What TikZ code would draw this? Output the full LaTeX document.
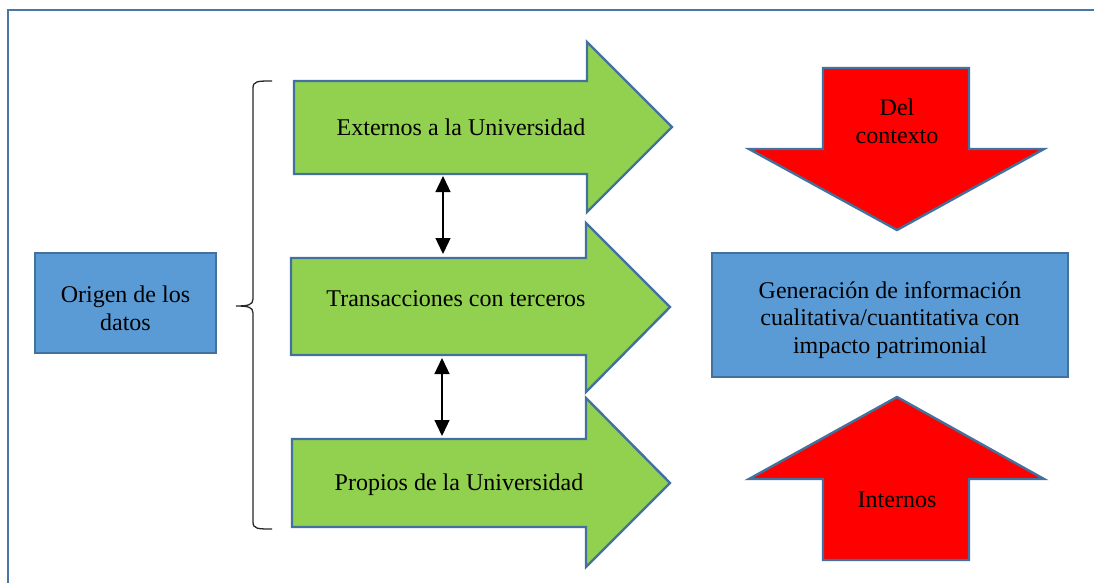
\documentclass[tikz,border=0pt]{standalone}
\usepackage{fontspec}
\setmainfont{Liberation Serif}
\usetikzlibrary{arrows.meta}
\definecolor{frameblue}{HTML}{4A76A8}
\definecolor{edgeblue}{HTML}{41719C}
\definecolor{boxblue}{HTML}{5B9BD5}
\definecolor{lgreen}{HTML}{92D050}
\definecolor{bred}{HTML}{FF0000}
\tikzset{
  shapeedge/.style={draw=edgeblue, line width=2.4pt, line join=miter},
  greenarrow/.style={shapeedge, fill=lgreen},
  redarrow/.style={shapeedge, fill=bred},
  bluebox/.style={shapeedge, fill=boxblue},
  lbl/.style={align=center, font=\fontsize{24}{27.6}\selectfont, inner sep=0pt},
  dblarrow/.style={line width=1.3pt, {Triangle[width=15pt,length=16pt]}-{Triangle[width=15pt,length=16pt]}},
  bracestyle/.style={draw=black!85, line width=1.3pt}
}
\begin{document}
\begin{tikzpicture}[x=1pt,y=-1pt]
\useasboundingbox (0,0) rectangle (1094,583);
% frame
\draw[frameblue, line width=2.6pt] (1100,10) -- (8,10) -- (8,590);
% left box
\draw[bluebox] (35,253) rectangle (216,353);
\node[lbl] (origen) at (125.5,308) {Origen de los\\datos};
% brace
\draw[bracestyle] (272,81) .. controls (258,81) and (253,81) .. (253,88)
  -- (253,299) .. controls (253,305) and (248,306) .. (236,306)
  .. controls (248,306) and (253,307) .. (253,313)
  -- (253,522) .. controls (253,529) and (258,529) .. (272,529);
% green arrows
\draw[greenarrow] (294,81) -- (587,81) -- (587,42) -- (672,127) -- (587,212) -- (587,174) -- (294,174) -- cycle;
\node[lbl] (ext) at (461,127) {Externos a la Universidad};
\draw[greenarrow] (291,258) -- (586,258) -- (586,223) -- (670,307) -- (586,392) -- (586,355) -- (291,355) -- cycle;
\node[lbl] (trans) at (456,299) {Transacciones con terceros};
\draw[greenarrow] (292,439) -- (586,439) -- (586,398) -- (670,483) -- (586,567) -- (586,527) -- (292,527) -- cycle;
\node[lbl] (prop) at (459,485) {Propios de la Universidad};
% double arrows
\coordinate (g1b) at (443,176);
\coordinate (g2t) at (443,254);
\coordinate (g2b) at (442,358);
\coordinate (g3t) at (442,436);
\draw[dblarrow] (g1b) -- (g2t);
\draw[dblarrow] (g2b) -- (g3t);
% red arrows
\draw[redarrow] (823,68) -- (969,68) -- (969,149) -- (1044,149) -- (897,230) -- (749,149) -- (823,149) -- cycle;
\node[lbl] (del) at (897,121) {Del\\contexto};
\draw[redarrow] (897,397) -- (1044,479) -- (969,479) -- (969,560) -- (823,560) -- (823,479) -- (749,479) -- cycle;
\node[lbl] (int) at (897,500) {Internos};
% right box
\draw[bluebox] (712,253) rectangle (1068,377);
\node[lbl] (gen) at (890,320) {Generación de información\\cualitativa/cuantitativa con\\impacto patrimonial};
\end{tikzpicture}
\end{document}
